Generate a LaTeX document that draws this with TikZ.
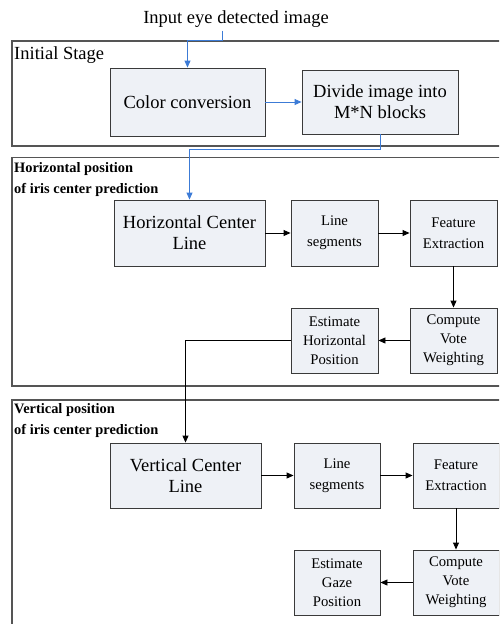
\documentclass[tikz,border=0pt]{standalone}
\usepackage{fontspec}
\setmainfont{Liberation Serif}
\usetikzlibrary{arrows.meta,calc}
\definecolor{boxfill}{HTML}{EEF1F6}
\definecolor{boxline}{HTML}{3A3A3A}
\definecolor{frameline}{HTML}{555555}
\definecolor{flowblue}{HTML}{3C7BD6}
\begin{document}
\begin{tikzpicture}[x=1pt,y=-1pt,
  bigbox/.style={draw=boxline,line width=0.9pt,fill=boxfill,align=center,inner sep=0pt,
    font=\fontsize{18.5}{21}\selectfont},
  smallbox/.style={draw=boxline,line width=0.9pt,fill=boxfill,align=center,inner sep=0pt,
    minimum width=87pt,minimum height=65pt,font=\fontsize{14.7}{21}\selectfont},
  threeline/.style={font=\fontsize{14.7}{19}\selectfont},
  stageframe/.style={draw=frameline,line width=1.3pt},
  stagelabel/.style={anchor=west,inner sep=0pt,align=left},
  blueflow/.style={draw=flowblue,line width=0.9pt,-{Triangle[length=7pt,width=6pt]}},
  blackflow/.style={draw=black,line width=0.9pt,-{Triangle[length=7pt,width=6pt]}}
]
\useasboundingbox (0,0) rectangle (499,624);
\clip (0,0) rectangle (499,624);

% stage frames
\draw[stageframe] (12,41) rectangle (520,146);
\draw[stageframe] (12,157.5) rectangle (520,386);
\draw[stageframe] (12,400) rectangle (520,650);

\node[stagelabel,font=\fontsize{18.5}{21}\selectfont] (lab1) at (14,55) {Initial Stage};
\node[stagelabel,font=\fontsize{14.4}{21}\bfseries] (lab2) at (14,179.5) {Horizontal position\\of iris center prediction};
\node[stagelabel,font=\fontsize{14.4}{21}\bfseries] (lab3) at (14,421) {Vertical position\\of iris center prediction};

% title
\node[inner sep=0pt,font=\fontsize{18.5}{21}\selectfont] (title) at (236,19) {Input eye detected image};

% initial stage
\node[bigbox,minimum width=155pt,minimum height=68pt] (cc) at (187.5,102) {Color conversion};
\node[bigbox,minimum width=156pt,minimum height=64pt] (div) at (380,102) {Divide image into\\M*N blocks};

% horizontal stage
\node[bigbox,minimum width=151pt,minimum height=66pt] (hcl) at (189.5,233) {Horizontal Center\\Line};
\node[smallbox,minimum height=66pt] (hls) at (334.5,233) {Line\\segments};
\node[smallbox,minimum height=66pt] (hfe) at (453.5,233) {Feature\\Extraction};
\node[smallbox,threeline] (hcv) at (453.5,340.5) {Compute\\Vote\\Weighting};
\node[smallbox,threeline] (hes) at (334.5,340.5) {Estimate\\Horizontal\\Position};

% vertical stage
\node[bigbox,minimum width=151pt,minimum height=65pt] (vcl) at (185.5,475.5) {Vertical Center\\Line};
\node[smallbox,minimum width=86pt] (vls) at (337,475.5) {Line\\segments};
\node[smallbox,minimum width=86pt] (vfe) at (456,475.5) {Feature\\Extraction};
\node[smallbox,minimum width=86pt,threeline] (vcv) at (456,582.5) {Compute\\Vote\\Weighting};
\node[smallbox,minimum width=86pt,threeline] (ves) at (337,582.5) {Estimate\\Gaze\\Position};

% connectors
\draw[blueflow] ([xshift=-14pt,yshift=-3pt]title.south) |- ([yshift=27pt]cc.north) -- (cc.north);
\draw[blueflow] (cc.east) -- (div.west);
\draw[blueflow] (div.south) -- ++(0,15) -| (hcl.north);

\draw[blackflow] (hcl.east) -- (hls.west);
\draw[blackflow] (hls.east) -- (hfe.west);
\draw[blackflow] (hfe.south) -- (hcv.north);
\draw[blackflow] (hcv.west) -- (hes.east);
\draw[blackflow] (hes.west) -| (vcl.north);

\draw[blackflow] (vcl.east) -- (vls.west);
\draw[blackflow] (vls.east) -- (vfe.west);
\draw[blackflow] (vfe.south) -- (vcv.north);
\draw[blackflow] (vcv.west) -- (ves.east);
\end{tikzpicture}
\end{document}
